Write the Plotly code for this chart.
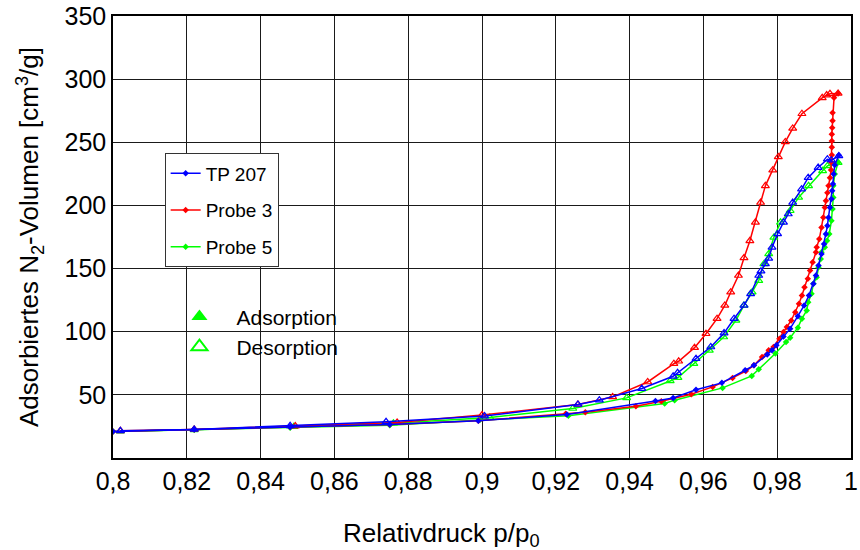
import plotly.graph_objects as go

# ---------------- data ----------------
x_ticks = [0.80, 0.82, 0.84, 0.86, 0.88, 0.90, 0.92, 0.94, 0.96, 0.98, 1.00]
x_tick_labels = ["0,8", "0,82", "0,84", "0,86", "0,88", "0,9", "0,92", "0,94", "0,96", "0,98", "1"]
y_ticks = [50, 100, 150, 200, 250, 300, 350]

series_names = ["TP 207", "Probe 3", "Probe 5"]
series_colors = ["#0000ff", "#ff0000", "#00ff00"]

# TP 207
tp207_ads_p = [0.800, 0.822, 0.848, 0.875, 0.899, 0.923, 0.947, 0.9518, 0.958, 0.965, 0.9713, 0.9737,
               0.9773, 0.9786, 0.9798, 0.9817, 0.9835, 0.9856, 0.9873, 0.9886, 0.9898, 0.9905, 0.9912,
               0.9920, 0.9927, 0.9932, 0.9936, 0.9939, 0.9943, 0.9947, 0.9949, 0.9951, 0.9953, 0.9956, 0.9967]
tp207_ads_v = [21.0, 22.5, 24.5, 26.5, 29.5, 34.5, 45.2, 47.5, 54.0, 59.5, 69.5, 73.4,
               82.0, 85.3, 89.2, 96.3, 102.4, 112.3, 120.8, 128.7, 137.9, 144.5, 152.4,
               161.6, 169.5, 177.4, 184.0, 190.5, 198.4, 205.0, 211.6, 216.9, 224.8, 232.0, 239.8]
tp207_des_p = [0.9967, 0.9947, 0.9936, 0.9911, 0.9884, 0.9866, 0.9842, 0.9830, 0.9817, 0.9801, 0.9786,
               0.9777, 0.9768, 0.9756, 0.9750, 0.9728, 0.9710, 0.9683, 0.9656, 0.9620, 0.9580, 0.9530,
               0.9518, 0.9433, 0.9318, 0.9260, 0.9007, 0.8740, 0.8480, 0.8220, 0.8020]
tp207_des_v = [239.2, 235.8, 236.6, 230.0, 222.0, 212.9, 202.3, 193.2, 186.6, 177.4, 166.8,
               158.0, 153.7, 147.9, 144.5, 130.0, 120.8, 110.3, 98.9, 87.9, 78.7, 67.5,
               64.7, 55.0, 45.8, 42.4, 33.2, 28.7, 25.5, 22.6, 21.5]

# Probe 3
p3_ads_p = [0.800, 0.822, 0.848, 0.875, 0.899, 0.9227, 0.928, 0.9417, 0.9486, 0.9567, 0.9625, 0.9679,
            0.9715, 0.9737, 0.9759, 0.9777, 0.9790, 0.9806, 0.9817, 0.9826, 0.9838, 0.9849, 0.9859,
            0.9867, 0.9874, 0.9883, 0.9889, 0.9896, 0.9905, 0.9907, 0.9914, 0.9920, 0.9925, 0.9929,
            0.9932, 0.9936, 0.9939, 0.9943, 0.9946, 0.9947, 0.9948, 0.9948, 0.9948, 0.9948, 0.9949,
            0.9950, 0.9950, 0.9954, 0.9965]
p3_ads_v = [21.0, 22.5, 24.5, 26.5, 29.5, 35.0, 36.3, 41.0, 45.0, 50.5, 56.3, 63.4,
            68.9, 73.4, 80.0, 85.3, 87.9, 94.5, 99.7, 103.7, 108.9, 115.5, 122.1,
            128.7, 135.3, 141.9, 148.4, 155.0, 162.9, 166.8, 173.4, 182.6, 190.5, 198.4,
            203.7, 210.0, 215.5, 222.0, 228.0, 234.0, 240.0, 246.0, 251.0, 256.3, 261.6,
            267.0, 273.4, 285.2, 288.7]
p3_des_p = [0.9965, 0.9943, 0.9934, 0.9922, 0.9867, 0.9842, 0.9822, 0.9803, 0.9788, 0.9768, 0.9755,
            0.9741, 0.9726, 0.9710, 0.9695, 0.9674, 0.9658, 0.9637, 0.9607, 0.9576, 0.9533, 0.9520,
            0.9449, 0.9354, 0.9260, 0.9000, 0.8770, 0.8494, 0.8220, 0.8020]
p3_des_v = [288.7, 288.4, 287.4, 285.2, 272.6, 261.0, 250.3, 238.4, 227.9, 215.5, 202.3,
            186.6, 172.0, 158.4, 144.5, 131.3, 120.8, 110.3, 98.4, 87.4, 76.6, 74.7,
            60.2, 48.4, 42.4, 34.0, 28.2, 25.3, 22.6, 21.5]

# Probe 5
p5_ads_p = [0.800, 0.822, 0.848, 0.875, 0.8994, 0.9234, 0.9495, 0.9522, 0.9652, 0.9731, 0.9750, 0.9795,
            0.9824, 0.9835, 0.9856, 0.9867, 0.9880, 0.9884, 0.9893, 0.9898, 0.9907, 0.9912, 0.9918,
            0.9920, 0.9929, 0.9935, 0.9941, 0.9947, 0.9950, 0.9952, 0.9952, 0.9956, 0.9965]
p5_ads_v = [21.0, 22.3, 24.0, 26.0, 30.0, 33.4, 43.2, 45.8, 55.5, 65.0, 70.3, 82.7,
            91.8, 95.3, 103.2, 110.3, 116.8, 123.4, 130.0, 137.9, 143.1, 151.0, 157.6,
            162.9, 166.8, 172.1, 177.4, 187.9, 197.1, 206.3, 215.5, 224.8, 233.9]
p5_des_p = [0.9965, 0.9936, 0.9923, 0.9885, 0.9858, 0.9835, 0.9809, 0.9791, 0.9777, 0.9764, 0.9750,
            0.9732, 0.9710, 0.9688, 0.9655, 0.9616, 0.9574, 0.9531, 0.9510, 0.9392, 0.9246, 0.9021,
            0.8760, 0.8490, 0.8220, 0.8020]
p5_des_v = [233.9, 231.3, 227.4, 215.5, 206.3, 195.8, 186.6, 174.7, 161.6, 153.7, 140.5,
            131.3, 120.8, 109.0, 95.8, 85.3, 74.7, 63.7, 61.0, 47.6, 39.2, 32.1,
            27.5, 24.8, 22.3, 21.2]

ads_p = [tp207_ads_p, p3_ads_p, p5_ads_p]
ads_v = [tp207_ads_v, p3_ads_v, p5_ads_v]
des_p = [tp207_des_p, p3_des_p, p5_des_p]
des_v = [tp207_des_v, p3_des_v, p5_des_v]

x_title = "Relativdruck p/p<sub>0</sub>"
y_title = "Adsorbiertes N<sub>2</sub>-Volumen [cm<sup>3</sup>/g]"

# ---------------- figure ----------------
FONT = "Liberation Sans, Arial, sans-serif"
fig = go.Figure()

draw_order = [2, 1, 0]
for i in draw_order:
    c = series_colors[i]
    fig.add_trace(go.Scatter(
        x=des_p[i], y=des_v[i], mode="lines+markers", showlegend=False,
        line=dict(color=c, width=1.5),
        marker=dict(symbol="triangle-up-open", size=7, color=c, line=dict(width=1.2, color=c)),
    ))
    fig.add_trace(go.Scatter(
        x=ads_p[i], y=ads_v[i], mode="lines+markers", showlegend=False,
        line=dict(color=c, width=1.5),
        marker=dict(symbol="diamond", size=5, color=c),
    ))

# legend entries (series)
for i, name in enumerate(series_names):
    fig.add_trace(go.Scatter(
        x=[None], y=[None], mode="lines+markers", name=name, legend="legend",
        legendgroup=name,
        line=dict(color=series_colors[i], width=1.5),
        marker=dict(symbol="diamond", size=5, color=series_colors[i]),
    ))

# legend entries (branch type)
fig.add_trace(go.Scatter(x=[None], y=[None], mode="markers", name="Adsorption", legend="legend2",
                         marker=dict(symbol="triangle-up", size=14, color="#00ff00")))
fig.add_trace(go.Scatter(x=[None], y=[None], mode="markers", name="Desorption", legend="legend2",
                         marker=dict(symbol="triangle-up-open", size=14, color="#00ff00",
                                     line=dict(width=2, color="#00ff00"))))

fig.update_layout(
    width=860, height=550,
    margin=dict(l=113, r=2, t=14, b=92),
    paper_bgcolor="white", plot_bgcolor="white",
    font=dict(family=FONT, color="black", size=25),
    legend=dict(
        x=0.07, y=0.689, xanchor="left", yanchor="top",
        bordercolor="#333333", borderwidth=1, bgcolor="white",
        font=dict(size=19, family=FONT), tracegroupgap=9, itemwidth=30,
    ),
    legend2=dict(
        x=0.067, y=0.366, xanchor="left", yanchor="top",
        borderwidth=0, bgcolor="rgba(0,0,0,0)",
        font=dict(size=21, family=FONT), itemwidth=64,
    ),
    annotations=[dict(
        text=x_title, xref="paper", yref="paper", x=0.4456, y=0, yshift=-76,
        xanchor="center", yanchor="middle", showarrow=False,
        font=dict(size=26, family=FONT, color="black"),
    )],
)

fig.update_xaxes(
    range=[0.8, 1.0], tickvals=x_ticks, ticktext=x_tick_labels,
    showgrid=True, gridcolor="#1a1a1a", gridwidth=1,
    showline=True, linecolor="black", linewidth=1.5, mirror=True,
    ticks="", zeroline=False, ticklabeloverflow="allow",
    tickfont=dict(size=25, family=FONT),
)
fig.update_yaxes(
    range=[0, 350], tickvals=y_ticks,
    showgrid=True, gridcolor="#1a1a1a", gridwidth=1,
    showline=True, linecolor="black", linewidth=1.5, mirror=True,
    ticks="", zeroline=False, ticklabeloverflow="allow",
    tickfont=dict(size=25, family=FONT),
    title=dict(text=y_title, font=dict(size=26, family=FONT), standoff=18),
)

fig.write_html("out.html")
